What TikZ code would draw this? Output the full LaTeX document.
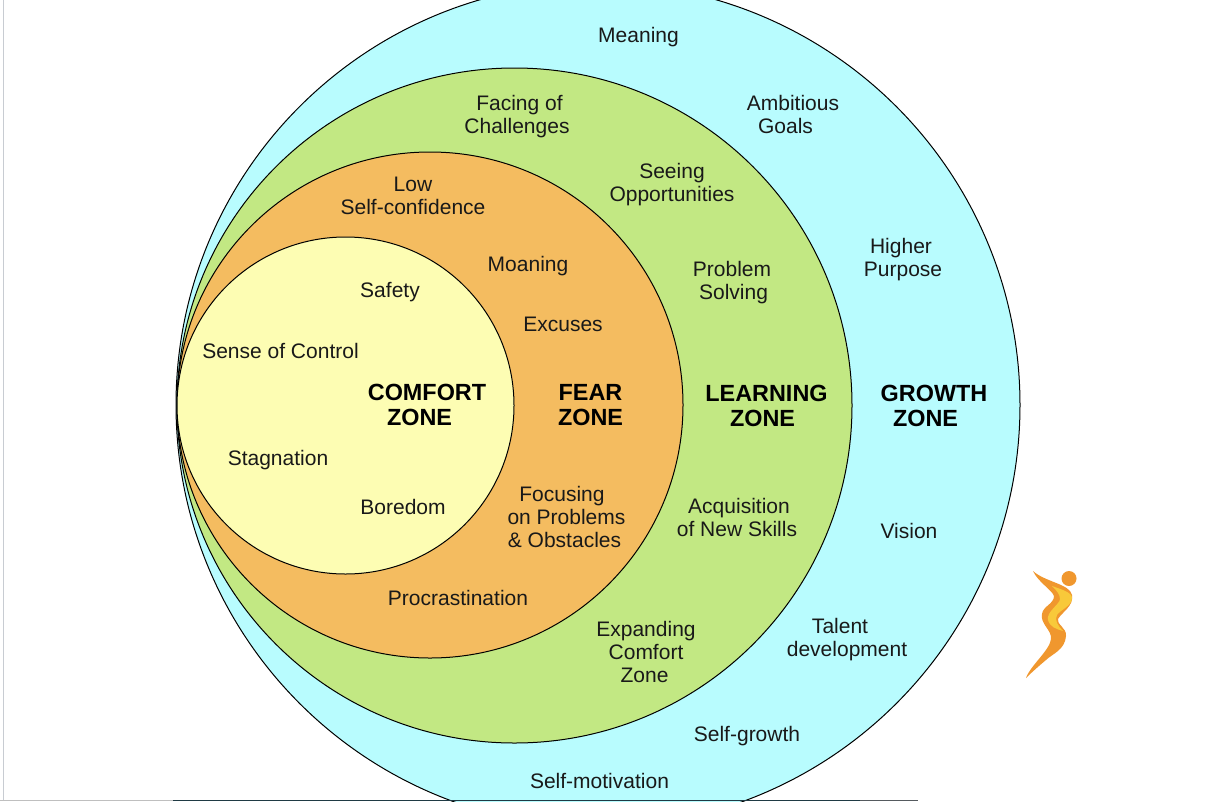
\documentclass[tikz,border=0pt]{standalone}
\usepackage{fontspec}
\setmainfont{Liberation Sans}
\definecolor{growthc}{HTML}{B8FCFE}
\definecolor{learnc}{HTML}{C2E883}
\definecolor{fearc}{HTML}{F4BC60}
\definecolor{comfc}{HTML}{FDFDB3}
\definecolor{logoa}{HTML}{F0972E}
\definecolor{logob}{HTML}{F8C93A}
\definecolor{stripa}{HTML}{1F3A44}
\definecolor{stripb}{HTML}{555A5E}
\definecolor{edgegray}{HTML}{C8CCD2}
\tikzset{
  zonecircle/.style={circle,draw=black,line width=1pt,inner sep=0pt,outer sep=0pt},
  lab/.style={align=center,font=\fontsize{21}{23}\selectfont,inner sep=0pt,text=black!90},
  zone/.style={align=center,font=\fontsize{23.4}{25}\selectfont\bfseries,inner sep=0pt,text=black}
}
\begin{document}
\begin{tikzpicture}[x=1pt,y=-1pt]
\useasboundingbox (0,0) rectangle (1231,801);
\fill[white] (0,0) rectangle (1231,801);
\draw[edgegray,line width=1.2pt] (3.5,0) -- (3.5,801);
\begin{scope}
\clip (0,0) rectangle (1231,801);
\node[zonecircle,fill=growthc,minimum size=844pt] (growth) at (598,405) {};
\node[zonecircle,fill=learnc,minimum size=675pt] (learning) at (514.5,405.5) {};
\node[zonecircle,fill=fearc,minimum size=506pt] (fear) at (430,405) {};
\node[zonecircle,fill=comfc,minimum size=337pt] (comfort) at (345.5,405.5) {};
\end{scope}
\fill[black!25] (0,799.7) rectangle (173,801);
\fill[stripa] (173,799.7) rectangle (860,801);
\fill[stripb] (860,799.7) rectangle (918,801);
% logo
\fill[logoa] (1033,571) .. controls (1045,582) and (1070,584) .. (1072,595) .. controls (1074,606) and (1062,612) .. (1058,619) .. controls (1056,624) and (1067,628) .. (1066,636) .. controls (1065,650) and (1052,654) .. (1046,660) .. controls (1040,665) and (1032,672) .. (1026,678) .. controls (1030,666) and (1050,650) .. (1051,639) .. controls (1052,630) and (1040,624) .. (1042,614) .. controls (1043,606) and (1054,604) .. (1054,596) .. controls (1052,590) and (1038,582) .. (1033,571) -- cycle;
\fill[logob] (1052,586) .. controls (1060,589) and (1072,592) .. (1072,598) .. controls (1072,606) and (1060,610) .. (1057,615) .. controls (1054,620) and (1058,626) .. (1063,631) .. controls (1056,629) and (1050,627) .. (1048,620) .. controls (1046,612) and (1060,604) .. (1060,599) .. controls (1060,594) and (1056,590) .. (1052,586) -- cycle;
\node[circle,fill=logoa,minimum size=15pt,inner sep=0pt] (logohead) at (1069,578.5) {};
% labels
\node[lab] (t1) at (638.5,37) {Meaning};
\node[lab] (t2) at (793,114.5) {Ambitious\\Goals\hspace*{15pt}};
\node[lab] (t3) at (903,260) {Higher\hspace*{4pt}\\Purpose};
\node[zone] (z1) at (934,406) {GROWTH\\ZONE\hspace*{17pt}};
\node[lab] (t4) at (909,531) {Vision};
\node[lab] (t5) at (847,639.5) {Talent\hspace*{14pt}\\development};
\node[lab] (t6) at (747,736) {Self-growth};
\node[lab] (t7) at (599.5,781) {Self-motivation};
\node[lab] (t8) at (517,116.5) {\hspace*{5pt}Facing of\\Challenges};
\node[lab] (t9) at (672,185) {Seeing\\Opportunities};
\node[lab] (t10) at (732,282.5) {Problem\\\hspace*{3pt}Solving};
\node[zone] (z2) at (766.5,406) {LEARNING\\ZONE\hspace*{8pt}};
\node[lab] (t11) at (737,517.5) {\hspace*{4pt}Acquisition\\of New Skills};
\node[lab] (t12) at (646,651.5) {Expanding\\Comfort\\Zone\hspace*{3pt}};
\node[lab] (t13) at (413,196) {Low\\Self-confidence};
\node[lab] (t14) at (528,266) {Moaning};
\node[lab] (t15) at (563,324) {Excuses};
\node[zone] (z3) at (590.5,405) {FEAR\\ZONE};
\node[lab] (t16) at (566.5,516.5) {Focusing\hspace*{9pt}\\on Problems\\\& Obstacles\hspace*{4pt}};
\node[lab] (t17) at (458,598) {Procrastination};
\node[lab] (t18) at (390,292) {Safety};
\node[lab] (t19) at (280.5,351) {Sense of Control};
\node[zone] (z4) at (427,405) {COMFORT\\ZONE\hspace*{15pt}};
\node[lab] (t20) at (278,460) {Stagnation};
\node[lab] (t21) at (403,507) {Boredom};
\end{tikzpicture}
\end{document}
